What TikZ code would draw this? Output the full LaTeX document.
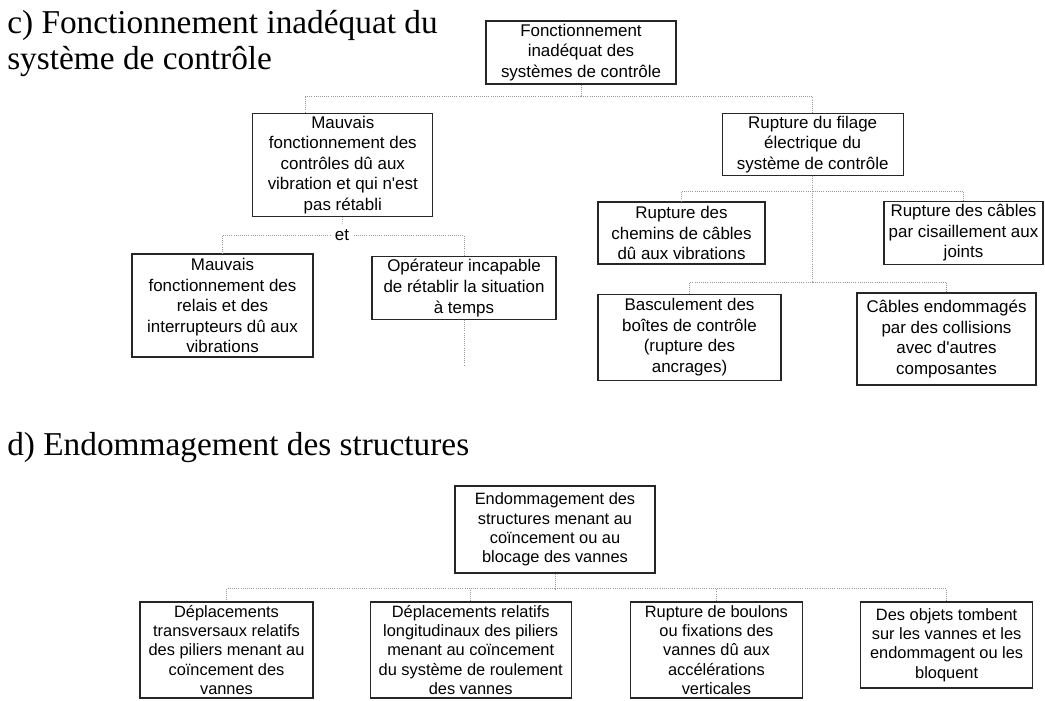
\documentclass[tikz,border=0pt]{standalone}
\usepackage{fontspec}
\setmainfont{Liberation Serif}
\newfontfamily\boxfont{Liberation Sans}
\usetikzlibrary{positioning}

\begin{document}
\begin{tikzpicture}[
  x=0.75pt, y=-0.75pt,
  node distance=21pt and 39pt,
  box/.style={rectangle,draw=black!85,line width=0.9pt,align=center,inner sep=2pt,font=\boxfont\fontsize{12.7}{15.4}\selectfont},
  dbox/.style={box,font=\boxfont\fontsize{12.3}{14.5}\selectfont},
  boxsize/.style 2 args={minimum width=#1*0.75pt,minimum height=#2*0.75pt},
  title/.style={anchor=north west,inner sep=0pt,align=left,font=\fontsize{25}{27}\selectfont},
  link/.style={gray!80,line width=0.6pt,densely dotted}
]
\useasboundingbox (0,0) rectangle (1045,700);

% Titles
\node[title] (titc) at (7,10) {c) Fonctionnement inadéquat du\\système de contrôle};
\node[title] (titd) at (7,432) {d) Endommagement des structures};

% c) control system tree
\node[box,boxsize={190}{63}] (sys) at (581,52.5) {Fonctionnement\\inadéquat des\\systèmes de contrôle};
\node[box,boxsize={180}{103},below left=21pt and 39pt of sys] (ctrl) {Mauvais\\fonctionnement des\\contrôles dû aux\\vibration et qui n'est\\pas rétabli};
\node[box,boxsize={181}{61},below right=21pt and 33.75pt of sys] (elec) {Rupture du filage\\électrique du\\système de contrôle};

\node[box,font=\boxfont\fontsize{12.7}{15.4}\selectfont,draw=none,inner sep=3pt] (et) at (342,235) {et};
\node[box,boxsize={181}{103}] (relais) at (222.5,305.5) {Mauvais\\fonctionnement des\\relais et des\\interrupteurs dû aux\\vibrations};
\node[box,boxsize={184}{60}] (oper) at (464,288) {Opérateur incapable\\de rétablir la situation\\à temps};

\node[box,boxsize={167}{62}] (chemins) at (681.5,233) {Rupture des\\chemins de câbles\\dû aux vibrations};
\node[box,boxsize={159}{62}] (joints) at (963.5,233) {Rupture des câbles\\par cisaillement aux\\joints};
\node[box,boxsize={183}{86},below=21.75pt of chemins.south west,anchor=north west] (bascul) {Basculement des\\boîtes de contrôle\\(rupture des\\ancrages)};
\node[box,boxsize={179}{92}] (collis) at (946.5,339) {Câbles endommagés\\par des collisions\\avec d'autres\\composantes};

% d) structures tree
\node[dbox,boxsize={200}{87}] (dmg) at (555,529.5) {Endommagement des\\structures menant au\\coïncement ou au\\blocage des vannes};
\node[dbox,boxsize={173}{96}] (pilt) at (226.5,650) {Déplacements\\transversaux relatifs\\des piliers menant au\\coïncement des\\vannes};
\node[dbox,boxsize={201}{96},right=42pt of pilt.north east,anchor=north west] (pill) {Déplacements relatifs\\longitudinaux des piliers\\menant au coïncement\\du système de roulement\\des vannes};
\node[dbox,boxsize={172}{96},right=43.5pt of pill.north east,anchor=north west] (boul) {Rupture de boulons\\ou fixations des\\vannes dû aux\\accélérations\\verticales};
\node[dbox,boxsize={172}{86},right=42.75pt of boul.north east,anchor=north west] (objets) {Des objets tombent\\sur les vannes et les\\endommagent ou les\\bloquent};

% Links c)
\draw[link] (sys.south) -- ++(0,12) coordinate (busc);
\draw[link] (busc) -| ([xshift=-27.75pt]ctrl.north);
\draw[link] (busc) -| (elec.north);
\draw[link] (ctrl.south) -- (et.north);
\draw[link] (et.west) -| (relais.north);
\draw[link] (et.east) -| (oper.north);
\draw[link] (oper.south) -- ++(0,46) coordinate (operend);
\draw[link] (elec.south) -- ++(0,15) coordinate (buse);
\draw[link] (buse) -| (chemins.north);
\draw[link] (buse) -| (joints.north);
\draw[link] (buse) -- ++(0,91) coordinate (busf);
\draw[link] (busf) -| (bascul.north);
\draw[link] (busf) -| (collis.north);

% Links d)
\draw[link] (dmg.south) -- ++(0,15) coordinate (busd);
\draw[link] (busd) -| (pilt.north);
\draw[link] (busd) -| (pill.north);
\draw[link] (busd) -| (boul.north);
\draw[link] (busd) -| (objets.north);

\end{tikzpicture}
\end{document}
